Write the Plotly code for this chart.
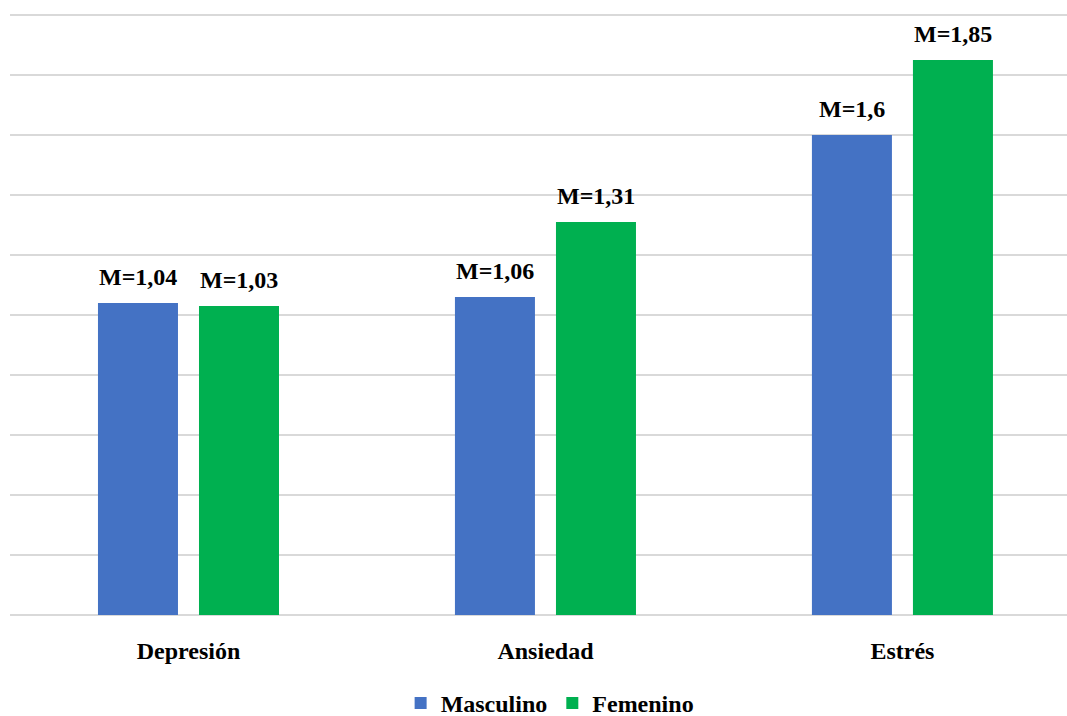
import plotly.graph_objects as go

categories = ["Depresión", "Ansiedad", "Estrés"]
masculino = [1.04, 1.06, 1.6]
femenino = [1.03, 1.31, 1.85]

font_family = "Liberation Serif"
bold = dict(family=font_family, size=24, color="#000000", weight="bold")


def label(v):
    return "M=" + f"{v:g}".replace(".", ",")


fig = go.Figure()
fig.add_trace(go.Bar(
    name="Masculino", x=categories, y=masculino,
    marker=dict(color="#4472C4", line=dict(width=0)),
))
fig.add_trace(go.Bar(
    name="Femenino", x=categories, y=femenino,
    marker=dict(color="#00B050", line=dict(width=0)),
))

# value labels above each bar, shifted to the bar's slot within its group
for values, shift in ((masculino, -50.5), (femenino, 50.5)):
    for cat, v in zip(categories, values):
        fig.add_annotation(
            x=cat, y=v, text=label(v), showarrow=False,
            xanchor="center", yanchor="bottom", xshift=shift, yshift=11,
            font=bold,
        )

fig.update_layout(
    width=1067, height=716,
    margin=dict(l=10, r=0, t=9, b=101, autoexpand=False),
    paper_bgcolor="white", plot_bgcolor="white",
    barmode="group", bargap=0.434, bargroupgap=0.208,
    font=dict(family=font_family, color="#000000"),
    showlegend=True,
    legend=dict(
        orientation="h", x=0.511, xanchor="center", y=-0.146, yanchor="middle",
        font=bold, itemwidth=30, tracegroupgap=0,
    ),
    xaxis=dict(
        range=[-0.5, 2.461], showgrid=False, zeroline=False, showline=False,
        ticks="outside", ticklen=14, tickcolor="rgba(0,0,0,0)",
        tickfont=bold,
    ),
    yaxis=dict(
        range=[0, 2.02], dtick=0.2, showticklabels=False,
        zeroline=True, zerolinecolor="#d9d9d9", zerolinewidth=2,
        showgrid=True, gridcolor="#d9d9d9", gridwidth=2, showline=False,
    ),
)

fig.write_html("out.html")
